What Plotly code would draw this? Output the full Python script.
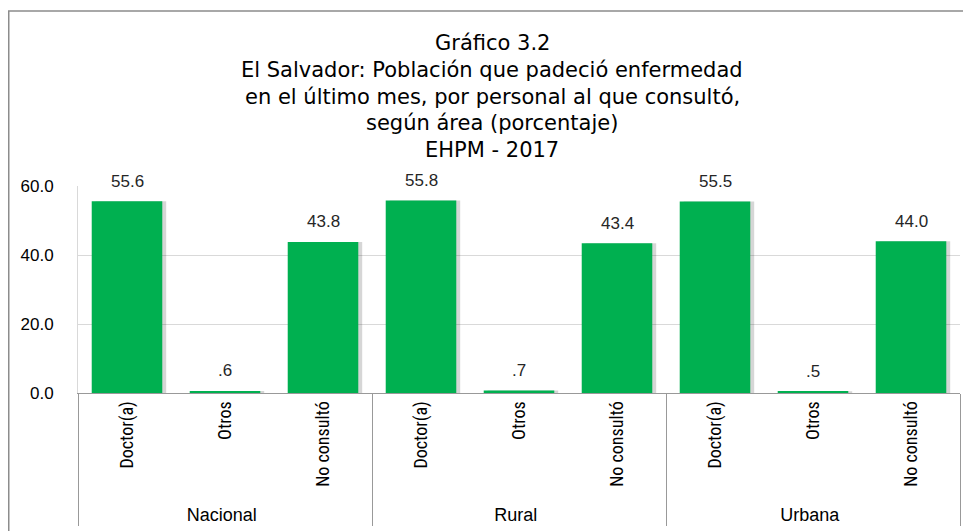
import plotly.graph_objects as go

# data
areas = ["Nacional", "Rural", "Urbana"]
personal = ["Doctor(a)", "Otros", "No consultó"]
nacional = [55.6, 0.6, 43.8]
rural = [55.8, 0.7, 43.4]
urbana = [55.5, 0.5, 44.0]

title_lines = [
    "Gráfico 3.2",
    "El Salvador: Población que padeció enfermedad",
    "en el último mes, por personal al que consultó,",
    "según área (porcentaje)",
    "EHPM - 2017",
]

SANS = "Liberation Sans, Arial, sans-serif"
WIDE = "DejaVu Sans, Liberation Sans, sans-serif"
COND = "Roboto Condensed, Liberation Sans, sans-serif"
GREEN = "#00B050"

values = nacional + rural + urbana
# outer (group) labels get their own font through a span, inner ones use tickfont
x_outer = [f"<span style='font-family:Liberation Sans; font-size:18px'>{a}</span>"
           for a in areas for _ in personal]
x_inner = [p for _ in areas for p in personal]


def excel_label(v):
    # Excel "#.0" style: drop the leading zero
    s = f"{v:.1f}"
    return s[1:] if s.startswith("0") else s


bar_w = 0.72

fig = go.Figure()
# soft shadow behind each bar
fig.add_trace(go.Bar(
    x=[x_outer, x_inner], y=values,
    width=bar_w, offset=-bar_w / 2 + 0.04,
    marker=dict(color="rgba(0,0,0,0.16)", line=dict(width=0)),
    hoverinfo="skip", showlegend=False,
))
fig.add_trace(go.Bar(
    x=[x_outer, x_inner], y=values,
    width=bar_w, offset=-bar_w / 2,
    marker=dict(color=GREEN, line=dict(width=0)),
    showlegend=False,
))

# value labels a bit higher above the bars than plotly's "outside" text
for i, v in enumerate(values):
    fig.add_annotation(
        x=i, y=v, xref="x", yref="y", text=excel_label(v),
        showarrow=False, yanchor="middle", yshift=20,
        font=dict(family=SANS, size=17, color="#262626"),
    )

# the page body adds an 8px margin, so the figure is drawn 8px smaller and
# every pixel position below is in figure coordinates (screen - 8)
W, H = 963, 523
L, R, T, B = 70, 11, 178, 138
pw, ph = W - L - R, H - T - B


def px_x(p):
    return (p - L) / pw


def px_y(p):
    return (H - B - p) / ph


fig.add_shape(
    type="rect", xref="paper", yref="paper",
    x0=px_x(0.75), x1=px_x(W + 5),
    y0=px_y(H + 5), y1=px_y(3),
    line=dict(color="#8c8c8c", width=1.5), fillcolor="rgba(0,0,0,0)",
    layer="below",
)

for k, line in enumerate(title_lines):
    fig.add_annotation(
        text=line, xref="paper", yref="paper",
        x=px_x(484), y=px_y(35 + 26.8 * k),
        xanchor="center", yanchor="middle", showarrow=False,
        font=dict(family=WIDE, size=21, color="#000000"),
    )

fig.update_layout(
    width=W, height=H,
    margin=dict(l=L, r=R, t=T, b=B, autoexpand=False),
    paper_bgcolor="white", plot_bgcolor="white",
    barmode="overlay",
    font=dict(family=SANS, color="#000000"),
)
fig.update_xaxes(
    type="multicategory", tickangle=-90, automargin=False,
    tickfont=dict(family=COND, size=18, color="#000000"),
    showline=True, linecolor="#999999", linewidth=1,
    showdividers=True, dividercolor="#999999", dividerwidth=1,
    ticks="", showgrid=False,
)
fig.update_yaxes(
    range=[0, 60], tickvals=[0, 20, 40, 60], tickformat=".1f",
    automargin=False, ticklabelstandoff=20,
    tickfont=dict(family=SANS, size=17, color="#000000"),
    showgrid=True, gridcolor="#d9d9d9", gridwidth=1,
    showline=True, linecolor="#d9d9d9", linewidth=1,
    zeroline=False, ticks="",
)

fig.write_html("out.html")
